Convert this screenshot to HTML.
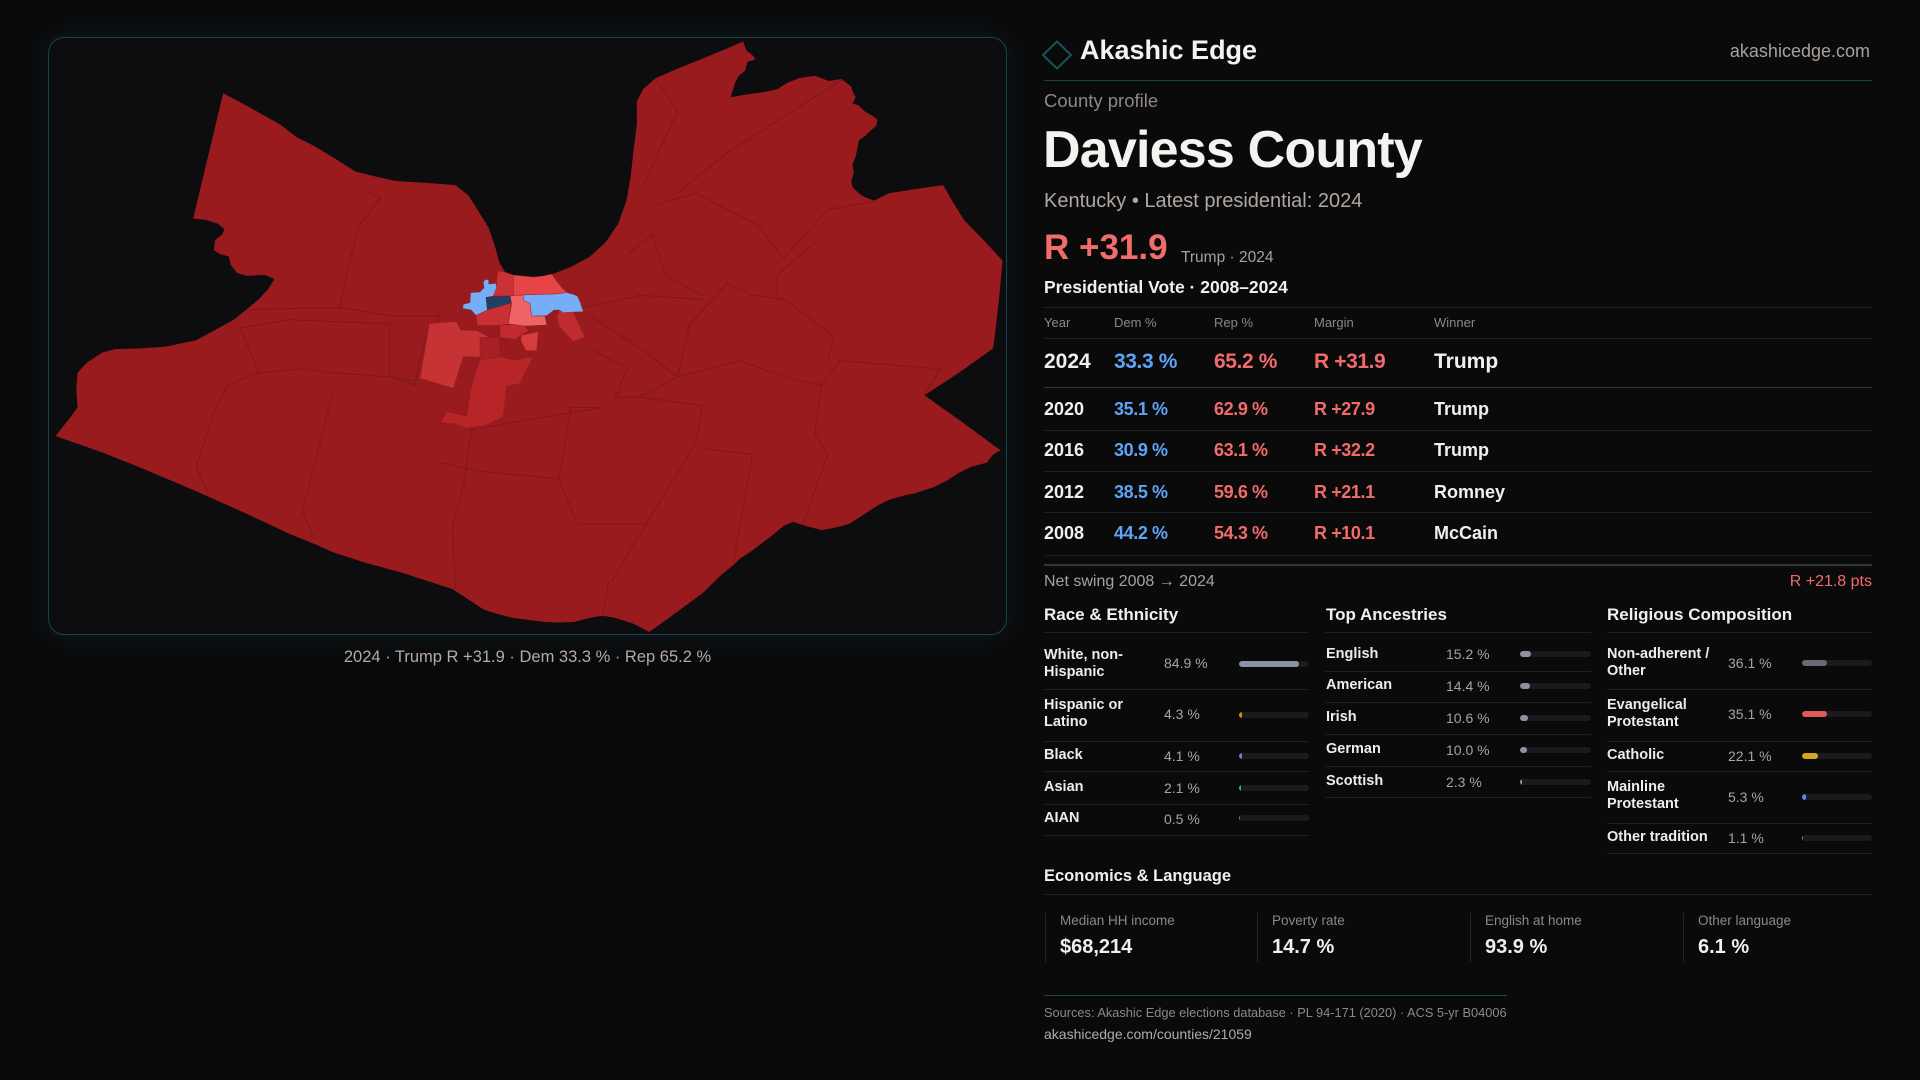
<!DOCTYPE html>
<html><head><meta charset="utf-8">
<style>
html,body{margin:0;padding:0;background:#0a0a0b;}
body{width:1920px;height:1080px;position:relative;overflow:hidden;font-family:"Liberation Sans",Arial,sans-serif;}
.t{position:absolute;line-height:1;white-space:nowrap;}
.b{font-weight:bold;}
.ln{position:absolute;height:1px;background:#1f1f21;}
.lab{position:absolute;font-weight:bold;font-size:14.5px;line-height:17px;color:#f0ece8;white-space:nowrap;}
.val{position:absolute;font-size:14px;line-height:1;color:#aaa29c;white-space:nowrap;}
.trk{position:absolute;height:6px;border-radius:3px;background:#1b1b1d;overflow:hidden;}
.trk i{position:absolute;left:0;top:0;height:6px;border-radius:3px;display:block;}
.panel{position:absolute;left:48px;top:37px;width:957px;height:596px;border:1px solid #17444b;border-radius:16px;background:#0d0c0e;box-shadow:0 0 28px rgba(20,70,85,0.28);}
.hd{color:#8f8782;font-size:13px;top:316.3px;}
.r24{font-size:21px;font-weight:bold;top:351.2px;}
.rw{font-size:18px;font-weight:bold;}
.yr{color:#f2efec;}
.dm{color:#5ea3f5;letter-spacing:-0.4px;}
.rp{color:#f26b6b;letter-spacing:-0.4px;}
.sep{position:absolute;width:1px;height:49px;top:913px;background:#242426;}
.el{font-size:13.5px;color:#8f8782;top:913.6px;}
.ev{font-size:20px;font-weight:bold;color:#f2efec;top:937.1px;}
</style></head>
<body>
<div class="panel"></div>
<svg style="position:absolute;left:0;top:0" width="1920" height="1080" viewBox="0 0 1920 1080">
 <svg x="40" y="30" width="980" height="640" viewBox="0 0 1568 1568" preserveAspectRatio="none">
  <path fill="#991b1e" d="M293,155 L330,185 385,232 410,262 440,285 475,318 505,347 540,360 570,370 620,375 665,380 685,405 700,440 718,485 728,530 735,570 745,595 765,605 790,606 820,598 850,580 880,555 905,520 925,475 938,420 945,360 950,290 955,230 955,175 965,145 985,118 1020,95 1060,70 1100,45 1125,28 1130,50 1140,62 1145,72 1132,78 1128,100 1118,112 1112,130 1108,150 1105,165 1130,158 1160,152 1180,145 1195,130 1215,118 1240,112 1262,125 1282,120 1298,138 1300,150 1305,165 1300,180 1310,185 1320,200 1332,210 1340,220 1338,235 1330,245 1320,260 1310,270 1308,290 1305,310 1300,330 1302,350 1298,370 1300,385 1310,400 1320,410 1335,418 1345,410 1358,400 1400,390 1445,380 1460,420 1478,465 1510,515 1540,565 1535,650 1530,720 1525,780 1470,840 1415,895 1475,960 1537,1030 1525,1040 1515,1060 1490,1070 1470,1085 1450,1105 1430,1120 1400,1135 1385,1140 1360,1150 1340,1165 1325,1180 1310,1195 1295,1210 1270,1220 1250,1225 1225,1215 1205,1205 1190,1215 1170,1240 1140,1275 1120,1295 1110,1310 1090,1335 1060,1380 1020,1425 975,1475 950,1455 920,1440 900,1435 880,1440 855,1450 830,1452 805,1450 780,1445 755,1440 730,1430 710,1420 690,1400 675,1385 660,1370 620,1350 580,1330 520,1305 470,1280 440,1260 400,1235 330,1185 250,1130 165,1075 100,1035 25,995 35,975 48,950 60,925 58,880 60,840 75,815 100,790 120,782 160,780 200,776 250,760 280,735 310,710 330,685 350,660 365,635 375,610 360,600 330,602 315,595 305,575 302,555 290,550 278,540 280,515 292,500 295,488 285,475 265,465 245,462 Z"/>
  <path fill="none" stroke="#6a1315" stroke-width="1" vector-effect="non-scaling-stroke" opacity="0.55" d="
M520,395 L545,410 510,480 490,600 480,680
M330,685 L480,680 560,700 640,700
M320,730 L400,710 560,720
M300,870 L350,840 420,830 470,840 560,850 605,860
M300,870 L280,930 250,1070 270,1140
M470,880 L440,1060 420,1180 440,1250
M560,720 L560,850
M690,980 L680,1100 660,1220 665,1370
M640,1060 L700,1080 830,1100 860,1210
M850,925 L830,1100
M860,1210 L970,1210 1050,1010 1060,920
M910,1350 L900,1440
M970,1210 L915,1350
M960,900 L1020,850 1120,810 1190,850 1250,870 1280,810 1440,830 1415,895
M1060,1025 L1140,1040 1110,1300
M1250,870 L1240,990 1260,1040 1220,1215
M1020,850 L1040,720 1100,620 1140,650 1190,660 1270,750 1260,810
M1180,660 L1180,600 1240,520
M1190,560 L1260,440 1335,420
M980,430 L1050,400 1150,480 1190,560
M1020,400 L1100,300 1285,120
M965,380 L1020,200 985,120
M940,550 L980,500 1000,600 1060,650
M870,680 L960,650 1060,660
M880,700 L970,790 1020,850
M880,780 L940,830 920,900 960,900
M760,960 L900,925 850,925
M690,980 L760,960
M600,870 L560,850
M960,900 L1060,920
M350,840 L320,730
M640,700 L615,760 600,870
"/>
 </svg>
 <g transform="translate(400 260) scale(0.333333)" stroke="#7a1a1c" stroke-width="1" vector-effect="non-scaling-stroke">
  <polygon fill="#c73234" points="88,190 170,185 182,210 230,212 268,232 265,292 190,290 160,385 60,355"/>
  <polygon fill="#b82528" points="240,300 300,290 345,300 395,290 395,300 360,370 320,380 310,470 260,495 200,505 165,492 122,488 140,455 200,468 210,400 225,340"/>
  <polygon fill="#a82024" points="240,232 300,232 300,290 240,300"/>
  <polygon fill="#c02c2e" points="300,196 370,192 385,212 345,238 300,232"/>
  <polygon fill="#d83b3d" points="365,225 415,215 410,272 378,272 362,242"/>
  <polygon fill="#c02b2e" points="478,150 520,156 555,232 520,245 478,200 470,170"/>
  <polygon fill="#c93033" points="228,166 262,150 334,128 325,192 300,196 232,196"/>
  <polygon fill="#c93336" points="295,32 320,38 340,45 340,108 280,108 290,82 290,50"/>
  <polygon fill="#e64446" points="340,45 370,48 400,51 430,48 455,42 475,70 490,88 505,100 470,102 440,103 370,105 340,108"/>
  <polygon fill="#ee6464" points="330,108 372,105 372,122 390,130 395,168 435,168 440,195 375,198 355,195 325,192 335,130"/>
  <polygon fill="#75adf7" points="370,105 470,102 500,98 520,103 532,108 540,125 550,155 520,156 490,158 478,150 462,150 440,167 395,168 390,130 372,122"/>
  <polygon fill="#75adf7" points="256,58 266,60 266,72 288,70 290,82 280,108 258,112 262,150 228,166 214,150 188,145 190,133 210,128 212,98 240,96 252,84 250,66"/>
  <polygon fill="#1e3f66" points="258,112 330,108 334,128 262,150"/>
 </g>
 <polygon points="1057,41.5 1071,55 1057,68.5 1043,55" fill="none" stroke="#17535c" stroke-width="2"/>
</svg>

<div class="t" style="left:48px;width:959px;text-align:center;top:648.6px;font-size:16.5px;color:#b3aba5;">2024 · Trump R +31.9 · Dem 33.3 % · Rep 65.2 %</div>

<div class="t b" style="left:1080px;top:37.1px;font-size:27px;color:#f5f3f0;">Akashic Edge</div>
<div class="t" style="right:50px;top:41.8px;font-size:18px;color:#a9a19b;">akashicedge.com</div>
<div class="ln" style="left:1044px;top:80px;width:828px;background:#1a4249;"></div>
<div class="t" style="left:1044px;top:91.6px;font-size:18.5px;color:#8f8782;">County profile</div>
<div class="t b" style="left:1043px;top:124.3px;font-size:52px;letter-spacing:-0.8px;color:#f5f3f0;">Daviess County</div>
<div class="t" style="left:1044px;top:191.4px;font-size:20px;color:#b0a8a2;">Kentucky • Latest presidential: 2024</div>
<div class="t b" style="left:1044px;top:229.7px;font-size:35px;color:#f36c6c;">R +31.9</div>
<div class="t" style="left:1181px;top:250.2px;font-size:15.5px;color:#a9a19b;">Trump · 2024</div>
<div class="t b" style="left:1044px;top:278.5px;font-size:17.5px;color:#f2efec;">Presidential Vote · 2008–2024</div>

<div class="ln" style="left:1044px;top:307px;width:828px;background:#222224;"></div>
<div class="t hd" style="left:1044px;">Year</div>
<div class="t hd" style="left:1114px;">Dem %</div>
<div class="t hd" style="left:1214px;">Rep %</div>
<div class="t hd" style="left:1314px;">Margin</div>
<div class="t hd" style="left:1434px;">Winner</div>
<div class="ln" style="left:1044px;top:338px;width:828px;background:#222224;"></div>

<div class="t r24 yr" style="left:1044px;">2024</div>
<div class="t r24 dm" style="left:1114px;">33.3 %</div>
<div class="t r24 rp" style="left:1214px;">65.2 %</div>
<div class="t r24 rp" style="left:1314px;">R +31.9</div>
<div class="t r24 yr" style="left:1434px;">Trump</div>
<div class="ln" style="left:1044px;top:387px;width:828px;background:#333336;"></div>

<div class="t rw yr" style="left:1044px;top:399.8px;">2020</div>
<div class="t rw dm" style="left:1114px;top:399.8px;">35.1 %</div>
<div class="t rw rp" style="left:1214px;top:399.8px;">62.9 %</div>
<div class="t rw rp" style="left:1314px;top:399.8px;">R +27.9</div>
<div class="t rw yr" style="left:1434px;top:399.8px;">Trump</div>
<div class="ln" style="left:1044px;top:430px;width:828px;"></div>

<div class="t rw yr" style="left:1044px;top:440.8px;">2016</div>
<div class="t rw dm" style="left:1114px;top:440.8px;">30.9 %</div>
<div class="t rw rp" style="left:1214px;top:440.8px;">63.1 %</div>
<div class="t rw rp" style="left:1314px;top:440.8px;">R +32.2</div>
<div class="t rw yr" style="left:1434px;top:440.8px;">Trump</div>
<div class="ln" style="left:1044px;top:471px;width:828px;"></div>

<div class="t rw yr" style="left:1044px;top:482.5px;">2012</div>
<div class="t rw dm" style="left:1114px;top:482.5px;">38.5 %</div>
<div class="t rw rp" style="left:1214px;top:482.5px;">59.6 %</div>
<div class="t rw rp" style="left:1314px;top:482.5px;">R +21.1</div>
<div class="t rw yr" style="left:1434px;top:482.5px;">Romney</div>
<div class="ln" style="left:1044px;top:512px;width:828px;"></div>

<div class="t rw yr" style="left:1044px;top:524.1px;">2008</div>
<div class="t rw dm" style="left:1114px;top:524.1px;">44.2 %</div>
<div class="t rw rp" style="left:1214px;top:524.1px;">54.3 %</div>
<div class="t rw rp" style="left:1314px;top:524.1px;">R +10.1</div>
<div class="t rw yr" style="left:1434px;top:524.1px;">McCain</div>
<div class="ln" style="left:1044px;top:555px;width:828px;background:#1c1c1e;"></div>
<div class="ln" style="left:1044px;top:564px;width:828px;height:2px;background:#353537;"></div>

<div class="t" style="left:1044px;top:573.8px;font-size:16px;color:#a9a19b;">Net swing 2008 → 2024</div>
<div class="t" style="right:48px;top:573.8px;font-size:16px;color:#f26b6b;">R +21.8 pts</div>

<div class="t b" style="left:1044px;top:605.6px;font-size:17px;color:#f2efec;">Race &amp; Ethnicity</div>
<div class="t b" style="left:1326px;top:605.6px;font-size:17px;color:#f2efec;">Top Ancestries</div>
<div class="t b" style="left:1607px;top:605.6px;font-size:17px;color:#f2efec;">Religious Composition</div>
<div class="ln" style="left:1044px;top:632px;width:265px;"></div>
<div class="ln" style="left:1325px;top:632px;width:266px;"></div>
<div class="ln" style="left:1607px;top:632px;width:265px;"></div>

<!-- Race -->
<div class="lab" style="left:1044px;top:646.5px;">White, non-<br>Hispanic</div>
<div class="val" style="left:1164px;top:655.9px;">84.9 %</div>
<div class="trk" style="left:1239px;top:661px;width:70px;"><i style="width:60px;background:#8a93a3;"></i></div>
<div class="ln" style="left:1044px;top:689px;width:265px;"></div>

<div class="lab" style="left:1044px;top:696.5px;">Hispanic or<br>Latino</div>
<div class="val" style="left:1164px;top:706.5px;">4.3 %</div>
<div class="trk" style="left:1239px;top:712px;width:70px;"><i style="width:3px;background:#d98b0d;"></i></div>
<div class="ln" style="left:1044px;top:741px;width:265px;"></div>

<div class="lab" style="left:1044px;top:747.2px;">Black</div>
<div class="val" style="left:1164px;top:748.9px;">4.1 %</div>
<div class="trk" style="left:1239px;top:753px;width:70px;"><i style="width:3px;background:#8c6fd8;"></i></div>
<div class="ln" style="left:1044px;top:771px;width:265px;"></div>

<div class="lab" style="left:1044px;top:778.8px;">Asian</div>
<div class="val" style="left:1164px;top:780.5px;">2.1 %</div>
<div class="trk" style="left:1239px;top:784.7px;width:70px;"><i style="width:2px;background:#2fb58c;"></i></div>
<div class="ln" style="left:1044px;top:804px;width:265px;"></div>

<div class="lab" style="left:1044px;top:810.2px;">AIAN</div>
<div class="val" style="left:1164px;top:811.9px;">0.5 %</div>
<div class="trk" style="left:1239px;top:815.3px;width:70px;"><i style="width:1px;background:#c8701e;"></i></div>
<div class="ln" style="left:1044px;top:835px;width:265px;"></div>

<!-- Ancestries -->
<div class="lab" style="left:1326px;top:645.5px;">English</div>
<div class="val" style="left:1446px;top:647.2px;">15.2 %</div>
<div class="trk" style="left:1520px;top:651px;width:71px;"><i style="width:11px;background:#8c94a1;"></i></div>
<div class="ln" style="left:1325px;top:671px;width:266px;"></div>

<div class="lab" style="left:1326px;top:677.2px;">American</div>
<div class="val" style="left:1446px;top:678.9px;">14.4 %</div>
<div class="trk" style="left:1520px;top:682.7px;width:71px;"><i style="width:10px;background:#8c94a1;"></i></div>
<div class="ln" style="left:1325px;top:702px;width:266px;"></div>

<div class="lab" style="left:1326px;top:709.2px;">Irish</div>
<div class="val" style="left:1446px;top:710.9px;">10.6 %</div>
<div class="trk" style="left:1520px;top:714.7px;width:71px;"><i style="width:7.5px;background:#8c94a1;"></i></div>
<div class="ln" style="left:1325px;top:734px;width:266px;"></div>

<div class="lab" style="left:1326px;top:740.8px;">German</div>
<div class="val" style="left:1446px;top:742.5px;">10.0 %</div>
<div class="trk" style="left:1520px;top:747px;width:71px;"><i style="width:7px;background:#8c94a1;"></i></div>
<div class="ln" style="left:1325px;top:766px;width:266px;"></div>

<div class="lab" style="left:1326px;top:772.8px;">Scottish</div>
<div class="val" style="left:1446px;top:774.5px;">2.3 %</div>
<div class="trk" style="left:1520px;top:778.7px;width:71px;"><i style="width:1.6px;background:#8c94a1;"></i></div>
<div class="ln" style="left:1325px;top:797px;width:266px;"></div>

<!-- Religion -->
<div class="lab" style="left:1607px;top:645.5px;">Non-adherent /<br>Other</div>
<div class="val" style="left:1728px;top:655.9px;">36.1 %</div>
<div class="trk" style="left:1802px;top:660.3px;width:70px;"><i style="width:25px;background:#686b74;"></i></div>
<div class="ln" style="left:1607px;top:689px;width:265px;"></div>

<div class="lab" style="left:1607px;top:696.5px;">Evangelical<br>Protestant</div>
<div class="val" style="left:1728px;top:706.5px;">35.1 %</div>
<div class="trk" style="left:1802px;top:711.3px;width:70px;"><i style="width:24.6px;background:#e0595b;"></i></div>
<div class="ln" style="left:1607px;top:741px;width:265px;"></div>

<div class="lab" style="left:1607px;top:747.2px;">Catholic</div>
<div class="val" style="left:1728px;top:748.9px;">22.1 %</div>
<div class="trk" style="left:1802px;top:753px;width:70px;"><i style="width:15.5px;background:#d8a51f;"></i></div>
<div class="ln" style="left:1607px;top:771px;width:265px;"></div>

<div class="lab" style="left:1607px;top:778.8px;">Mainline<br>Protestant</div>
<div class="val" style="left:1728px;top:789.9px;">5.3 %</div>
<div class="trk" style="left:1802px;top:794.3px;width:70px;"><i style="width:3.7px;background:#4a8fe3;"></i></div>
<div class="ln" style="left:1607px;top:823px;width:265px;"></div>

<div class="lab" style="left:1607px;top:828.8px;">Other tradition</div>
<div class="val" style="left:1728px;top:830.5px;">1.1 %</div>
<div class="trk" style="left:1802px;top:834.7px;width:70px;"><i style="width:1px;background:#888a90;"></i></div>
<div class="ln" style="left:1607px;top:853px;width:265px;"></div>

<!-- Economics -->
<div class="t b" style="left:1044px;top:867.7px;font-size:16.5px;color:#f2efec;">Economics &amp; Language</div>
<div class="ln" style="left:1044px;top:894px;width:828px;"></div>
<div class="sep" style="left:1045px;"></div>
<div class="sep" style="left:1257px;"></div>
<div class="sep" style="left:1470px;"></div>
<div class="sep" style="left:1683px;"></div>
<div class="t el" style="left:1060px;">Median HH income</div>
<div class="t el" style="left:1272px;">Poverty rate</div>
<div class="t el" style="left:1485px;">English at home</div>
<div class="t el" style="left:1698px;">Other language</div>
<div class="t ev" style="left:1060px;">$68,214</div>
<div class="t ev" style="left:1272px;">14.7 %</div>
<div class="t ev" style="left:1485px;">93.9 %</div>
<div class="t ev" style="left:1698px;">6.1 %</div>

<div class="ln" style="left:1044px;top:995px;width:463px;background:#1d474d;"></div>
<div class="t" style="left:1044px;top:1006.5px;font-size:12.8px;color:#8f8782;">Sources: Akashic Edge elections database · PL 94-171 (2020) · ACS 5-yr B04006</div>
<div class="t" style="left:1044px;top:1026.5px;font-size:14px;color:#b3aba5;">akashicedge.com/counties/21059</div>
</body></html>
